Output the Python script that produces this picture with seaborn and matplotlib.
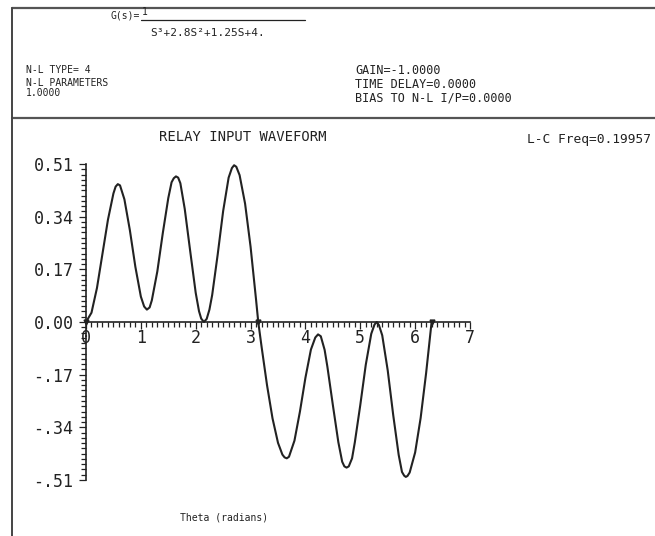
import numpy as np
import pandas as pd
import seaborn as sns
import matplotlib
matplotlib.use('Agg')
import matplotlib.pyplot as plt
from matplotlib.ticker import AutoMinorLocator

theta = [0.0, 0.1, 0.2, 0.3, 0.4, 0.5, 0.54, 0.58, 0.62, 0.7, 0.8, 0.9, 1.0, 1.06, 1.11,
         1.16, 1.2, 1.3, 1.4, 1.5, 1.56, 1.6, 1.64, 1.68, 1.72, 1.8, 1.9, 2.0, 2.06,
         2.1, 2.15, 2.2, 2.25, 2.3, 2.4, 2.5, 2.6, 2.66, 2.7, 2.74, 2.8, 2.9, 3.0, 3.1,
         3.14, 3.2, 3.3, 3.4, 3.5, 3.58, 3.62, 3.66, 3.7, 3.8, 3.9, 4.0, 4.1, 4.18,
         4.23, 4.28, 4.35, 4.4, 4.5, 4.6, 4.67, 4.71, 4.75, 4.79, 4.85, 4.9, 5.0, 5.1,
         5.2, 5.26, 5.3, 5.34, 5.4, 5.5, 5.6, 5.7, 5.76, 5.8, 5.83, 5.86, 5.9, 6.0,
         6.1, 6.2, 6.3]
relay_input = [0.0, 0.03, 0.11, 0.22, 0.33, 0.415, 0.437, 0.445, 0.441, 0.396, 0.296,
               0.178, 0.082, 0.05, 0.04, 0.047, 0.07, 0.163, 0.287, 0.40, 0.451, 0.464,
               0.47, 0.466, 0.448, 0.365, 0.228, 0.094, 0.035, 0.011, 0.0, 0.01, 0.04,
               0.087, 0.217, 0.358, 0.466, 0.497, 0.506, 0.501, 0.474, 0.382, 0.243,
               0.072, 0.0, -0.079, -0.204, -0.311, -0.39, -0.428, -0.437, -0.44, -0.435,
               -0.383, -0.289, -0.18, -0.089, -0.05, -0.04, -0.046, -0.09, -0.144,
               -0.268, -0.388, -0.451, -0.466, -0.47, -0.466, -0.44, -0.389, -0.268,
               -0.138, -0.038, -0.008, 0.0, -0.01, -0.043, -0.156, -0.30, -0.429,
               -0.484, -0.496, -0.50, -0.497, -0.486, -0.421, -0.31, -0.165, 0.0]
crossings = [0.0, 3.14, 6.30]

yticks = [0.51, 0.34, 0.17, 0.0, -0.17, -0.34, -0.51]
ytick_labels = ['0.51', '0.34', '0.17', '0.00', '-.17', '-.34', '-.51']
xticks = [0, 1, 2, 3, 4, 5, 6, 7]

df = pd.DataFrame({'theta': theta, 'y': relay_input})

sns.set_style('white')
mono = 'DejaVu Sans Mono'
ink = '#222222'

W, H = 655, 536
fig = plt.figure(figsize=(W / 100, H / 100), dpi=100)


def px(x, y):
    return x / W, 1 - y / H


# frame lines of the printout
fig.add_artist(plt.Line2D([12 / W, 1], [1 - 8 / H] * 2, color='#555555', lw=1.6))
fig.add_artist(plt.Line2D([12 / W, 1], [1 - 118 / H] * 2, color='#555555', lw=1.6))
fig.add_artist(plt.Line2D([12 / W] * 2, [0, 1 - 8 / H], color='#444444', lw=1.4))

# transfer function header
fig.text(*px(111, 16), 'G(s)=', family=mono, fontsize=7, color=ink, va='center')
fig.text(*px(142, 12), '1', family=mono, fontsize=7, color=ink, va='center')
fig.add_artist(plt.Line2D([141 / W, 305 / W], [1 - 20 / H] * 2, color=ink, lw=0.9))
fig.text(*px(150, 33), 'S³+2.8S²+1.25S+4.', family=mono, fontsize=8, color=ink, va='center')

fig.text(*px(26, 70), 'N-L TYPE= 4', family=mono, fontsize=7, color=ink, va='center')
fig.text(*px(26, 83), 'N-L PARAMETERS', family=mono, fontsize=7, color=ink, va='center')
fig.text(*px(26, 93), '1.0000', family=mono, fontsize=7, color=ink, va='center')
fig.text(*px(355, 70), 'GAIN=-1.0000', family=mono, fontsize=8.5, color=ink, va='center')
fig.text(*px(355, 84), 'TIME DELAY=0.0000', family=mono, fontsize=8.5, color=ink, va='center')
fig.text(*px(355, 98), 'BIAS TO N-L I/P=0.0000', family=mono, fontsize=8.5, color=ink,
         va='center')

fig.text(*px(243, 137), 'RELAY INPUT WAVEFORM', family=mono, fontsize=10, color=ink,
         va='center', ha='center')
fig.text(*px(527, 140), 'L-C Freq=0.19957', family=mono, fontsize=9.3, color=ink, va='center')
fig.text(*px(180, 517), 'Theta (radians)', family=mono, fontsize=7, color=ink, va='center')

ax = fig.add_axes([86 / W, 1 - 480 / H, 384 / W, 316 / H])
ax.set_facecolor('none')
sns.lineplot(data=df, x='theta', y='y', ax=ax, color=ink, lw=1.5, sort=True)
ax.plot(crossings, [0] * len(crossings), 'v', color=ink, ms=3.5, clip_on=False)

ax.set_xlim(0, 7)
ax.set_ylim(-0.51, 0.51)
ax.spines['top'].set_visible(False)
ax.spines['right'].set_visible(False)
ax.spines['bottom'].set_position(('data', 0))
for s in ['left', 'bottom']:
    ax.spines[s].set_color(ink)
    ax.spines[s].set_linewidth(1.2)

ax.set_yticks(yticks)
ax.set_yticklabels(ytick_labels)
ax.set_xticks(xticks)
ax.set_xticklabels([str(t) for t in xticks])
ax.xaxis.set_minor_locator(AutoMinorLocator(10))
ax.yaxis.set_minor_locator(AutoMinorLocator(10))
ax.tick_params(axis='both', which='both', direction='out', color=ink, width=0.9,
               labelcolor=ink, bottom=True, left=True)
ax.tick_params(axis='both', which='major', length=5, labelsize=12)
ax.tick_params(axis='x', which='major', pad=0)
ax.tick_params(axis='y', which='major', pad=4)
ax.tick_params(axis='both', which='minor', length=3.5)
for lab in ax.get_xticklabels() + ax.get_yticklabels():
    lab.set_family(mono)
ax.set_xlabel('')
ax.set_ylabel('')

fig.savefig('out.png', dpi=100)
